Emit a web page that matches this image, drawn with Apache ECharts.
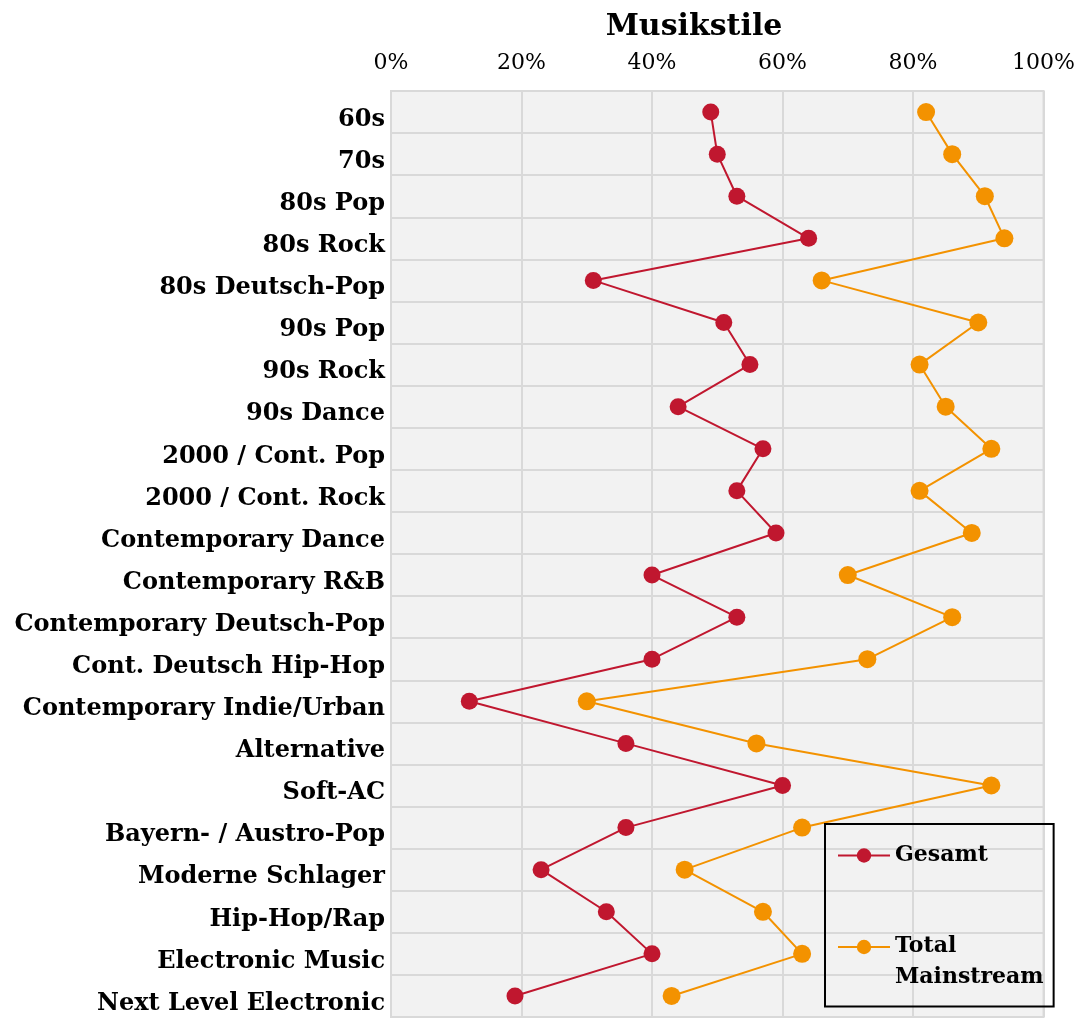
<!DOCTYPE html>
<html>
<head>
<meta charset="utf-8">
<script src="https://cdn.jsdelivr.net/npm/echarts@6/dist/echarts.min.js"></script>
<style>
  html, body { margin: 0; padding: 0; background: #fff; }
  #chart { width: 1078px; height: 1021px; }
</style>
</head>
<body>
<div id="chart"></div>
<script>
// categories, top to bottom
const categories = [
  '60s', '70s', '80s Pop', '80s Rock', '80s Deutsch-Pop', '90s Pop', '90s Rock',
  '90s Dance', '2000 / Cont. Pop', '2000 / Cont. Rock', 'Contemporary Dance',
  'Contemporary R&B', 'Contemporary Deutsch-Pop', 'Cont. Deutsch Hip-Hop',
  'Contemporary Indie/Urban', 'Alternative', 'Soft-AC', 'Bayern- / Austro-Pop',
  'Moderne Schlager', 'Hip-Hop/Rap', 'Electronic Music', 'Next Level Electronic'
];
const gesamt = [49, 50, 53, 64, 31, 51, 55, 44, 57, 53, 59, 40, 53, 40, 12, 36, 60, 36, 23, 33, 40, 19];
const totalMainstream = [82, 86, 91, 94, 66, 90, 81, 85, 92, 81, 89, 70, 86, 73, 30, 56, 92, 63, 45, 57, 63, 43];
const xTicks = [0, 20, 40, 60, 80, 100];

const FONT = 'DejaVu Serif';
const chart = echarts.init(document.getElementById('chart'), null, { renderer: 'canvas' });

const option = {
  animation: false,
  textStyle: { fontFamily: FONT },
  title: {
    text: 'Musikstile',
    left: 689,
    top: 7,
    textAlign: 'center',
    textStyle: { fontFamily: FONT, fontWeight: 'bold', fontSize: 30, color: '#000' }
  },
  grid: {
    left: 391, right: 33, top: 91, bottom: 4,
    show: true,
    backgroundColor: '#f2f2f2',
    borderColor: '#d9d9d9',
    borderWidth: 2
  },
  xAxis: {
    type: 'value',
    position: 'top',
    min: xTicks[0],
    max: xTicks[xTicks.length - 1],
    interval: 20,
    axisLine: { show: false },
    axisTick: { show: false },
    axisLabel: {
      formatter: '{value}%',
      fontFamily: FONT,
      fontSize: 22,
      color: '#000',
      margin: 17
    },
    splitLine: { lineStyle: { color: '#d9d9d9', width: 2 } }
  },
  yAxis: {
    type: 'category',
    inverse: true,
    data: categories,
    axisLine: { show: false },
    axisTick: { show: false },
    axisLabel: {
      interval: 0,
      fontFamily: FONT,
      fontWeight: 'bold',
      fontSize: 24,
      color: '#000',
      margin: 6,
      // labels sit a little below the row centre
      verticalAlign: 'top',
      lineHeight: 15
    },
    splitLine: { show: true, interval: 0, lineStyle: { color: '#d9d9d9', width: 2 } }
  },
  legend: {
    orient: 'vertical',
    left: 825,
    top: 824,
    width: 228,
    height: 300,
    padding: [16, 10, 18, 12],
    itemGap: 45,
    itemWidth: 52,
    itemHeight: 18,
    borderColor: '#000',
    borderWidth: 2,
    textStyle: {
      fontFamily: FONT, fontWeight: 'bold', fontSize: 22, color: '#000', lineHeight: 31,
      // first line level with the marker, second line below it
      rich: {
        t: { lineHeight: 61 },
        m: { lineHeight: 1 }
      }
    },
    formatter: name => name === 'Total Mainstream' ? '{t|Total}\n{m|Mainstream}' : name,
    data: ['Gesamt', 'Total Mainstream']
  },
  series: [
    {
      name: 'Gesamt',
      type: 'line',
      data: gesamt,
      symbol: 'circle',
      symbolSize: 17,
      color: '#c0172f',
      lineStyle: { width: 2 }
    },
    {
      name: 'Total Mainstream',
      type: 'line',
      data: totalMainstream,
      symbol: 'circle',
      symbolSize: 18,
      color: '#f39200',
      lineStyle: { width: 2 }
    }
  ]
};

// values go on the x axis, categories on the y axis
option.series.forEach(s => {
  s.data = s.data.map((v, i) => [v, categories[i]]);
});

chart.setOption(option);
</script>
</body>
</html>
